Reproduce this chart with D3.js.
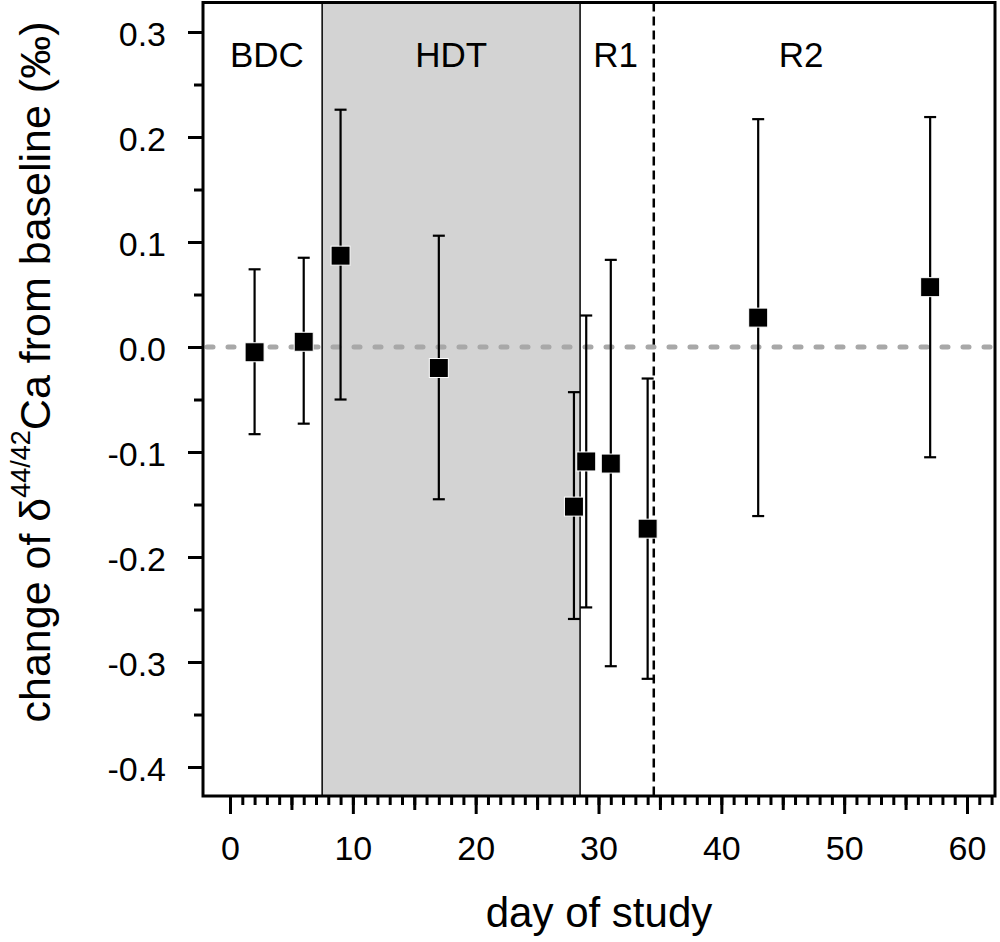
<!DOCTYPE html>
<html lang="en">
<head>
<meta charset="utf-8">
<title>Change of calcium isotope ratio</title>
<script src="https://cdn.jsdelivr.net/npm/d3@7"></script>
<style>
  body { margin: 0; background: #fff; }
  text { font-family: Arial, "Liberation Sans", sans-serif; fill: #000; }
</style>
</head>
<body>
<script>
// data
var days  = [2, 6, 9, 17, 28, 29, 31, 34, 43, 57];
var means = [-0.005, 0.005, 0.087, -0.020, -0.152, -0.109, -0.111, -0.173, 0.028, 0.057];
var upper = [0.074, 0.085, 0.226, 0.106, -0.043, 0.030, 0.083, -0.030, 0.217, 0.219];
var lower = [-0.083, -0.073, -0.050, -0.145, -0.259, -0.248, -0.304, -0.316, -0.161, -0.105];

// study phases
var phaseNames = ["BDC", "HDT", "R1", "R2"];
var phaseLabelDay = [3, 18, 31.4, 46.5];
var hdtSpan = [7.5, 28.5];
var r1End = 34.5;

// ticks
var xTicks = [0, 10, 20, 30, 40, 50, 60];
var xMidTicks = [5, 15, 25, 35, 45, 55];
var xMinorTicks = d3.range(0, 63, 1);
var yTicks = [-0.4, -0.3, -0.2, -0.1, 0.0, 0.1, 0.2, 0.3];
var yMinorTicks = [-0.35, -0.25, -0.15, -0.05, 0.05, 0.15, 0.25];

var W = 1000, H = 942;
var pL = 203, pT = 2.5, pR = 995, pB = 796;   // plot frame

var svg = d3.select("body").append("svg")
  .attr("width", W)
  .attr("height", H);

var x = d3.scaleLinear().domain([-2.2, 62.28]).range([pL, pR]);
var y = d3.scaleLinear().domain([-0.4276, 0.3281]).range([pB, pT]);

// shaded bed rest period
svg.append("rect")
  .attr("x", x(hdtSpan[0]))
  .attr("y", pT)
  .attr("width", x(hdtSpan[1]) - x(hdtSpan[0]))
  .attr("height", pB - pT)
  .attr("fill", "#d3d3d3");

svg.selectAll("line.phase")
  .data(hdtSpan)
  .enter()
  .append("line")
  .attr("class", "phase")
  .attr("x1", function(d) { return x(d); })
  .attr("x2", function(d) { return x(d); })
  .attr("y1", pT)
  .attr("y2", pB)
  .attr("stroke", "#000")
  .attr("stroke-width", 1.5);

svg.append("line")
  .attr("x1", x(r1End)).attr("x2", x(r1End))
  .attr("y1", pT).attr("y2", pB)
  .attr("stroke", "#000")
  .attr("stroke-width", 2.5)
  .attr("stroke-dasharray", "9,5");

// baseline at zero
svg.append("line")
  .attr("x1", pL + 4).attr("x2", pR)
  .attr("y1", y(0)).attr("y2", y(0))
  .attr("stroke", "#a8a8a8")
  .attr("stroke-width", 5)
  .attr("stroke-linecap", "round")
  .attr("stroke-dasharray", "6,15");

// error bars
var idx = d3.range(days.length);
var bars = svg.selectAll("g.bar")
  .data(idx)
  .enter()
  .append("g")
  .attr("class", "bar")
  .attr("stroke", "#000")
  .attr("stroke-width", 2.2);

bars.append("line")
  .attr("x1", function(i) { return x(days[i]); })
  .attr("x2", function(i) { return x(days[i]); })
  .attr("y1", function(i) { return y(upper[i]); })
  .attr("y2", function(i) { return y(lower[i]); });

bars.append("line")
  .attr("x1", function(i) { return x(days[i]) - 6; })
  .attr("x2", function(i) { return x(days[i]) + 6; })
  .attr("y1", function(i) { return y(upper[i]); })
  .attr("y2", function(i) { return y(upper[i]); });

bars.append("line")
  .attr("x1", function(i) { return x(days[i]) - 6; })
  .attr("x2", function(i) { return x(days[i]) + 6; })
  .attr("y1", function(i) { return y(lower[i]); })
  .attr("y2", function(i) { return y(lower[i]); });

// squares
var s = 19;
svg.selectAll("rect.pt")
  .data(idx)
  .enter()
  .append("rect")
  .attr("class", "pt")
  .attr("x", function(i) { return x(days[i]) - s / 2; })
  .attr("y", function(i) { return y(means[i]) - s / 2; })
  .attr("width", s)
  .attr("height", s)
  .attr("fill", "#000")
  .attr("stroke", "#fff")
  .attr("stroke-width", 1);

// phase labels
svg.selectAll("text.phase")
  .data(phaseNames)
  .enter()
  .append("text")
  .attr("class", "phase")
  .attr("x", function(d, i) { return x(phaseLabelDay[i]); })
  .attr("y", 67)
  .attr("text-anchor", "middle")
  .attr("font-size", "35px")
  .text(function(d) { return d; });

// frame
svg.append("rect")
  .attr("x", pL).attr("y", pT)
  .attr("width", pR - pL).attr("height", pB - pT)
  .attr("fill", "none")
  .attr("stroke", "#000")
  .attr("stroke-width", 3);

// y axis
var gy = svg.append("g").attr("transform", "translate(" + pL + ",0)");
gy.call(d3.axisLeft(y).tickValues(yTicks).tickSize(15).tickPadding(22)
  .tickFormat(function(d) { return d.toFixed(1); }));
gy.append("g").call(d3.axisLeft(y).tickValues(yMinorTicks).tickSize(9).tickFormat(""));

// x axis
var gx = svg.append("g").attr("transform", "translate(0," + pB + ")");
gx.call(d3.axisBottom(x).tickValues(xTicks).tickSize(18).tickPadding(22)
  .tickFormat(function(d) { return d; }));
gx.append("g").call(d3.axisBottom(x).tickValues(xMidTicks).tickSize(14).tickFormat(""));
gx.append("g").call(d3.axisBottom(x).tickValues(xMinorTicks).tickSize(9).tickFormat(""));

svg.selectAll(".domain").remove();
svg.selectAll(".tick line").attr("stroke", "#000").attr("stroke-width", 3);
svg.selectAll(".tick text")
  .attr("font-size", "34px")
  .attr("font-family", "Arial, 'Liberation Sans', sans-serif")
  .attr("fill", "#000");
gy.selectAll(".tick text").attr("dy", "0.4em");

// axis titles
svg.append("text")
  .attr("x", (pL + pR) / 2)
  .attr("y", 927)
  .attr("text-anchor", "middle")
  .attr("font-size", "42px")
  .text("day of study");

var yt = svg.append("text")
  .attr("transform", "translate(50,372) rotate(-90)")
  .attr("text-anchor", "middle")
  .attr("font-size", "43px");
yt.append("tspan").text("change of \u03b4");
yt.append("tspan").attr("font-size", "27px").attr("dy", "-0.75em").text("44/42");
yt.append("tspan").attr("dy", "0.47em").text("Ca from baseline (\u2030)");
</script>
</body>
</html>
